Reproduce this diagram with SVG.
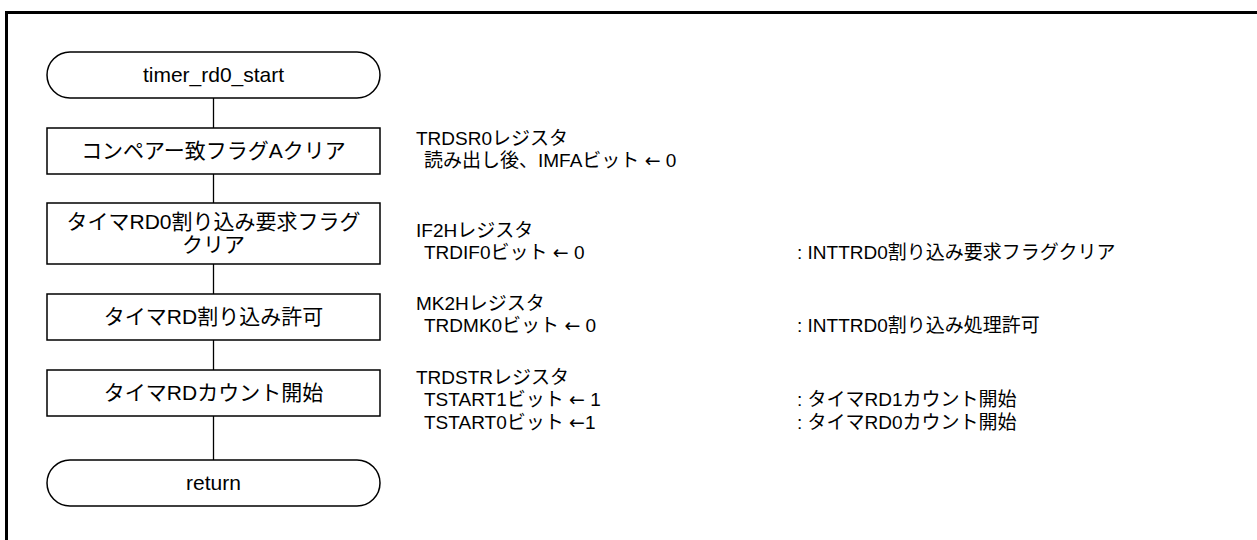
<svg xmlns="http://www.w3.org/2000/svg" width="1257" height="540" viewBox="0 0 1257 540">
<style>
.frame{stroke:#000;stroke-width:3;fill:none}
.node{fill:#fff;stroke:#000;stroke-width:1.5}
.conn{stroke:#000;stroke-width:1.3;fill:none}
.t{font-family:"Liberation Sans","Noto Sans CJK JP",sans-serif;font-size:21px;fill:#000;text-anchor:middle}
.r{font-family:"Liberation Sans","Noto Sans CJK JP",sans-serif;font-size:19px;fill:#000}
.ar{font-family:"DejaVu Sans",sans-serif}
</style>
<rect width="1257" height="540" fill="#fff"/>
<g id="frame">
<line class="frame" x1="5" y1="12.5" x2="1257" y2="12.5"/>
<line class="frame" x1="6.5" y1="11" x2="6.5" y2="540"/>
</g>
<g id="connectors">
<line class="conn" x1="213.5" y1="98" x2="213.5" y2="128"/>
<line class="conn" x1="213.5" y1="174" x2="213.5" y2="203"/>
<line class="conn" x1="213.5" y1="264" x2="213.5" y2="294"/>
<line class="conn" x1="213.5" y1="340" x2="213.5" y2="370"/>
<line class="conn" x1="213.5" y1="416" x2="213.5" y2="460"/>
</g>
<g id="start">
<rect class="node" x="47" y="52" width="333" height="46" rx="23"/>
<text class="t" x="213.5" y="82">timer_rd0_start</text>
</g>
<g id="step1">
<rect class="node" x="47" y="128" width="333" height="46"/>
<text class="t" x="213.5" y="158">コンペアー致フラグAクリア</text>
</g>
<g id="step2">
<rect class="node" x="47" y="203" width="333" height="61"/>
<text class="t" x="213.5" y="229">タイマRD0割り込み要求フラグ</text>
<text class="t" x="213.5" y="252">クリア</text>
</g>
<g id="step3">
<rect class="node" x="47" y="294" width="333" height="46"/>
<text class="t" x="213.5" y="324">タイマRD割り込み許可</text>
</g>
<g id="step4">
<rect class="node" x="47" y="370" width="333" height="46"/>
<text class="t" x="213.5" y="400">タイマRDカウント開始</text>
</g>
<g id="end">
<rect class="node" x="47" y="460" width="333" height="46" rx="23"/>
<text class="t" x="213.5" y="490">return</text>
</g>
<g id="notes">
<text class="r" x="416" y="145">TRDSR0レジスタ</text>
<text class="r" x="424" y="166.5">読み出し後、IMFAビット <tspan class="ar">←</tspan> 0</text>
<text class="r" x="416" y="237">IF2Hレジスタ</text>
<text class="r" x="424" y="258.5">TRDIF0ビット <tspan class="ar">←</tspan> 0</text>
<text class="r" x="797" y="258.5">: INTTRD0割り込み要求フラグクリア</text>
<text class="r" x="416" y="310">MK2Hレジスタ</text>
<text class="r" x="424" y="331.5">TRDMK0ビット <tspan class="ar">←</tspan> 0</text>
<text class="r" x="797" y="331.5">: INTTRD0割り込み処理許可</text>
<text class="r" x="416" y="384">TRDSTRレジスタ</text>
<text class="r" x="424" y="406">TSTART1ビット <tspan class="ar">←</tspan> 1</text>
<text class="r" x="797" y="406">: タイマRD1カウント開始</text>
<text class="r" x="424" y="428.5">TSTART0ビット <tspan class="ar">←</tspan>1</text>
<text class="r" x="797" y="428.5">: タイマRD0カウント開始</text>
</g>
</svg>
